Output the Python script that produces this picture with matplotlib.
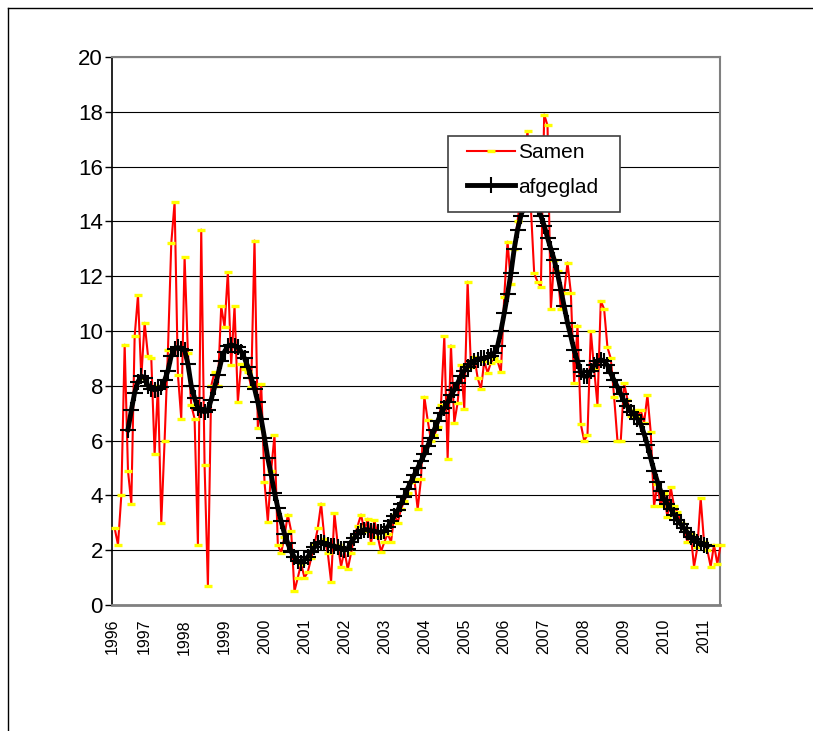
import matplotlib.pyplot as plt
from matplotlib.lines import Line2D
from matplotlib.patches import Rectangle
import numpy as np

plt.rcParams['font.family'] = ['Liberation Sans', 'DejaVu Sans']

# maandcijfers, eerste punt = april 1996
samen = [
    2.8, 2.2, 4.0, 9.5, 4.9, 3.7, 9.8, 11.3, 8.3, 10.3,
    9.1, 9.0, 5.5, 8.0, 3.0, 6.0, 9.3, 13.2, 14.7, 8.4,
    6.8, 12.7, 9.2, 7.3, 6.8, 2.2, 13.7, 5.1, 0.7, 8.0,
    8.5, 8.0, 10.9, 10.15, 12.15, 8.76, 10.9, 7.42, 8.8, 8.6,
    8.5, 7.97, 13.3, 6.45, 8.07, 4.5, 3.04, 4.9, 6.2, 2.2,
    1.9, 2.5, 3.3, 2.7, 0.5, 1.0, 1.5, 1.0, 1.2, 1.7,
    2.2, 2.8, 3.7, 2.4, 1.9, 0.85, 3.35, 2.2, 1.4, 2.0,
    1.3, 1.9, 2.5, 2.9, 3.3, 2.7, 3.15, 2.25, 3.1, 2.5,
    1.95, 2.3, 2.6, 2.3, 3.3, 3.0, 3.5, 3.8, 4.1, 4.5,
    4.6, 3.5, 4.6, 7.6, 6.75, 6.0, 6.2, 6.5, 7.3, 9.8,
    5.33, 9.47, 6.66, 7.38, 8.76, 7.17, 11.8, 8.7, 9.06, 8.3,
    7.87, 8.9, 8.47, 8.85, 9.0, 8.9, 8.5, 11.25, 13.26, 11.7,
    13.0, 14.0, 15.0, 16.2, 17.3, 14.5, 12.1, 11.8, 11.6, 17.9,
    17.5, 10.8, 12.6, 12.2, 10.8, 11.4, 12.5, 11.4, 8.1, 10.2,
    6.6, 6.0, 6.2, 10.0, 8.6, 7.3, 11.1, 10.8, 9.4, 9.0,
    7.6, 6.0, 6.0, 8.1, 7.5, 6.9, 7.1, 6.9, 7.1, 6.65,
    7.66, 6.3, 3.6, 4.4, 3.6, 4.1, 3.2, 4.3, 3.6, 3.4,
    3.0, 2.8, 2.3, 2.6, 1.4, 2.1, 3.9, 2.3, 2.0, 1.4,
    2.2, 1.5, 2.2,
]

# afgevlakte reeks, begint 4 maanden later (augustus 1996)
afgeglad_start = 4
afgeglad = [
    6.4, 7.1, 7.75, 8.15, 8.35, 8.3,
    8.0, 7.9, 7.85, 7.9, 7.95, 8.2, 8.55, 9.1, 9.35, 9.4,
    9.35, 9.3, 8.8, 8.0, 7.55, 7.2, 7.1, 7.05, 7.1, 7.5,
    7.95, 8.4, 8.9, 9.25, 9.45, 9.5, 9.45, 9.4, 9.25, 9.0,
    8.7, 8.3, 7.9, 7.4, 6.8, 6.1, 5.35, 4.75, 4.1, 3.55,
    3.05, 2.6, 2.25, 1.95, 1.75, 1.6, 1.55, 1.65, 1.75, 1.95,
    2.1, 2.25, 2.3, 2.25, 2.2, 2.15, 2.15, 2.1, 2.05, 2.0,
    2.05, 2.3, 2.45, 2.6, 2.7, 2.75, 2.75, 2.7, 2.7, 2.65,
    2.65, 2.7, 2.85, 3.05, 3.25, 3.45, 3.7, 3.95, 4.25, 4.5,
    4.75, 5.0, 5.25, 5.5, 5.8, 6.1, 6.4, 6.7, 7.0, 7.2,
    7.4, 7.65, 7.85, 8.1, 8.35, 8.55, 8.7, 8.8, 8.9, 8.95,
    9.0, 9.0, 9.05, 9.1, 9.2, 9.45, 10.0, 10.65, 11.35, 12.1,
    13.0, 13.7, 14.2, 14.6, 14.9, 15.0, 14.9, 14.5, 14.2, 13.85,
    13.4, 13.0, 12.6, 12.1, 11.5, 10.9, 10.3, 9.8, 9.3, 8.9,
    8.5, 8.35, 8.35, 8.55, 8.75, 8.9, 8.95, 8.9, 8.75, 8.45,
    8.2, 7.95, 7.7, 7.45, 7.25, 7.05, 6.95, 6.8, 6.6, 6.25,
    5.85, 5.35, 4.9, 4.5, 4.15, 3.85, 3.7, 3.5, 3.3, 3.1,
    2.95, 2.8, 2.65, 2.5, 2.4, 2.3, 2.25, 2.2, 2.15,
]

years = list(range(1996, 2012))
y_ticks = list(range(0, 21, 2))

W, H = 813, 731
fig = plt.figure(figsize=(W / 100, H / 100), dpi=100)
ax = fig.add_axes([112 / W, 1 - 605 / H, 608 / W, 548 / H])

x_samen = np.arange(len(samen))
x_afg = np.arange(len(afgeglad)) + afgeglad_start

ax.plot(x_samen, samen, color='#ff0000', lw=1.5, marker='_', ms=5.5,
        mew=2.4, mec='#ffff00', mfc='#ffff00', label='Samen', zorder=3,
        clip_on=False)
ax.plot(x_afg, afgeglad, color='black', lw=3.5, marker='+', ms=11,
        mew=1.5, label='afgeglad', zorder=4)

xmin, xmax = -0.8, 181.8
ax.set_xlim(xmin, xmax)
ax.set_ylim(0, 20)

# jaarlabels: 1996 aan begin as, verder januari van elk jaar
xpos = [xmin] + [9 + 12 * (y - 1997) for y in years[1:]]
ax.set_xticks(xpos)
ax.set_xticklabels([str(y) for y in years], rotation=90, fontsize=11.5)
ax.tick_params(axis='x', length=0, pad=10)

ax.set_yticks(y_ticks)
ax.set_yticklabels([str(v) for v in y_ticks], fontsize=16)
ax.tick_params(axis='y', length=5, width=1, pad=1.5, color='black')

ax.yaxis.grid(True, color='black', lw=0.8)
ax.set_axisbelow(True)

ax.spines['left'].set_color('black')
ax.spines['left'].set_linewidth(1.2)
ax.spines['bottom'].set_color('#808080')
ax.spines['bottom'].set_linewidth(2)
for s in ['top', 'right']:
    ax.spines[s].set_color('#808080')
    ax.spines[s].set_linewidth(1.5)

# legenda met eigen kader
fig.add_artist(Rectangle((448 / W, 1 - 212 / H), 172 / W, 76 / H,
                         transform=fig.transFigure, facecolor='white',
                         edgecolor='#404040', lw=1.2, zorder=4))
leg = fig.legend(loc='upper left', bbox_to_anchor=(467 / W, 1 - 143 / H),
                 frameon=False, fontsize=15, handlelength=2.3,
                 handletextpad=0.15, borderpad=0, borderaxespad=0,
                 labelspacing=0.75)
leg.set_zorder(5)

# rand van het grafiekgebied
fig.add_artist(Line2D([8 / W, 1], [1 - 8 / H, 1 - 8 / H], color='black', lw=1))
fig.add_artist(Line2D([8 / W, 8 / W], [0, 1 - 8 / H], color='black', lw=1))

fig.savefig('out.png', dpi=100)
